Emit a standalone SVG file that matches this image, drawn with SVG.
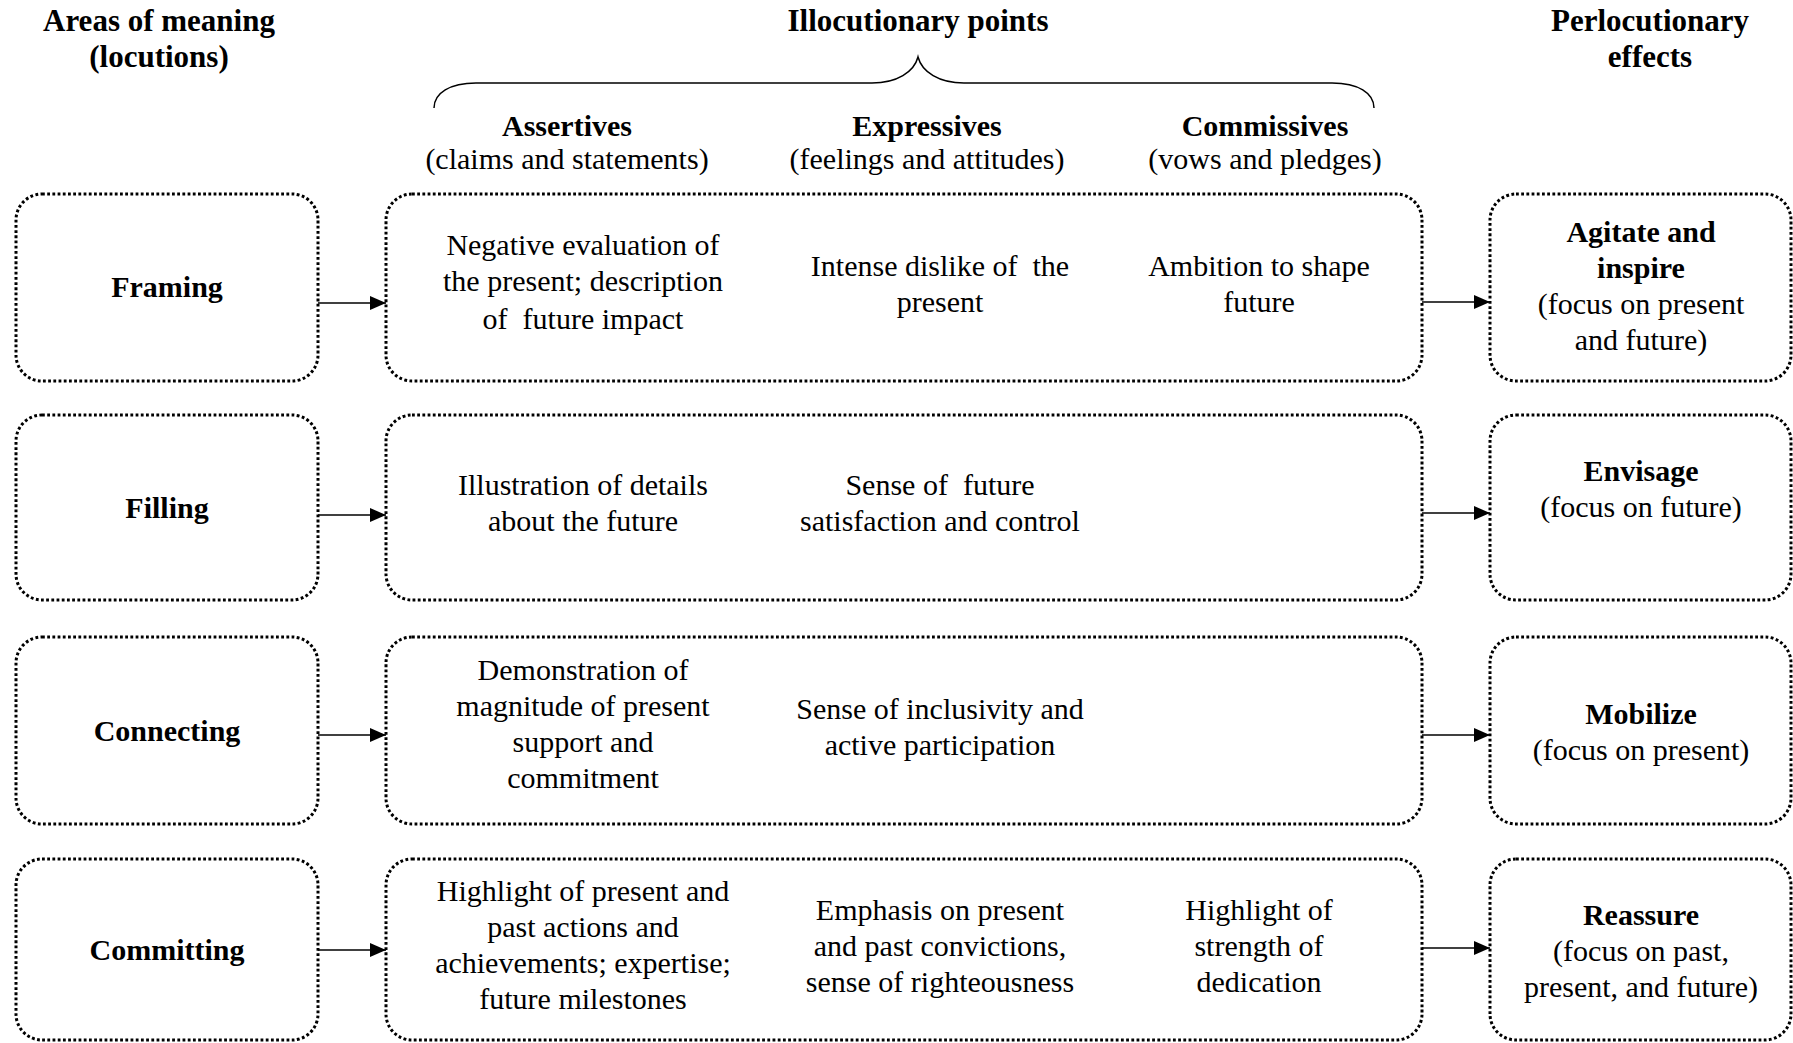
<svg xmlns="http://www.w3.org/2000/svg" width="1793" height="1043" viewBox="0 0 1793 1043">
<defs>
<style>
text{font-family:"Liberation Serif","Times New Roman",serif;font-size:30px;fill:#000;text-anchor:middle;white-space:pre}
.b{font-weight:bold}
.h{font-size:31px}
.box{fill:none;stroke:#000;stroke-width:3;stroke-dasharray:2.8 2.4}
.conn{stroke:#000;stroke-width:1.5;fill:none}
</style>
<marker id="ah" viewBox="0 0 16 14" refX="16" refY="7" markerWidth="16" markerHeight="14" markerUnits="userSpaceOnUse" orient="auto">
<path d="M0,0 L16,7 L0,14 Z" fill="#000"/>
</marker>
</defs>
<rect width="1793" height="1043" fill="#fff"/>

<g id="headers">
<text class="b h" x="159" y="31">Areas of meaning</text>
<text class="b h" x="159" y="67">(locutions)</text>
<text class="b h" x="918" y="31">Illocutionary points</text>
<text class="b h" x="1650" y="31">Perlocutionary</text>
<text class="b h" x="1650" y="67">effects</text>
<path class="conn" d="M434,108 C434,93 450,83 476,83 L872,83 C897,83 914,72 918,57 C922,72 939,83 964,83 L1332,83 C1358,83 1374,93 1374,108"/>
<text class="b" x="567" y="136">Assertives</text>
<text x="567" y="169">(claims and statements)</text>
<text class="b" x="927" y="136">Expressives</text>
<text x="927" y="169">(feelings and attitudes)</text>
<text class="b" x="1265" y="136">Commissives</text>
<text x="1265" y="169">(vows and pledges)</text>
</g>

<g id="framing">
<rect class="box" x="16" y="194" width="302" height="187" rx="26"/>
<text class="b" x="167" y="297">Framing</text>
</g>
<g id="framing-points">
<rect class="box" x="386" y="194" width="1036" height="187" rx="26"/>
<text x="583" y="255">Negative evaluation of</text>
<text x="583" y="291">the present; description</text>
<text x="583" y="329">of  future impact</text>
<text x="940" y="276">Intense dislike of  the</text>
<text x="940" y="312">present</text>
<text x="1259" y="276">Ambition to shape</text>
<text x="1259" y="312">future</text>
</g>
<g id="agitate">
<rect class="box" x="1490" y="194" width="301" height="187" rx="26"/>
<text class="b" x="1641" y="242">Agitate and</text>
<text class="b" x="1641" y="278">inspire</text>
<text x="1641" y="314">(focus on present</text>
<text x="1641" y="350">and future)</text>
</g>

<g id="filling">
<rect class="box" x="16" y="415" width="302" height="185" rx="26"/>
<text class="b" x="167" y="518">Filling</text>
</g>
<g id="filling-points">
<rect class="box" x="386" y="415" width="1036" height="185" rx="26"/>
<text x="583" y="495">Illustration of details</text>
<text x="583" y="531">about the future</text>
<text x="940" y="495">Sense of  future</text>
<text x="940" y="531">satisfaction and control</text>
</g>
<g id="envisage">
<rect class="box" x="1490" y="415" width="301" height="185" rx="26"/>
<text class="b" x="1641" y="481">Envisage</text>
<text x="1641" y="517">(focus on future)</text>
</g>

<g id="connecting">
<rect class="box" x="16" y="637" width="302" height="187" rx="26"/>
<text class="b" x="167" y="741">Connecting</text>
</g>
<g id="connecting-points">
<rect class="box" x="386" y="637" width="1036" height="187" rx="26"/>
<text x="583" y="680">Demonstration of</text>
<text x="583" y="716">magnitude of present</text>
<text x="583" y="752">support and</text>
<text x="583" y="788">commitment</text>
<text x="940" y="719">Sense of inclusivity and</text>
<text x="940" y="755">active participation</text>
</g>
<g id="mobilize">
<rect class="box" x="1490" y="637" width="301" height="187" rx="26"/>
<text class="b" x="1641" y="724">Mobilize</text>
<text x="1641" y="760">(focus on present)</text>
</g>

<g id="committing">
<rect class="box" x="16" y="859" width="302" height="181" rx="26"/>
<text class="b" x="167" y="960">Committing</text>
</g>
<g id="committing-points">
<rect class="box" x="386" y="859" width="1036" height="181" rx="26"/>
<text x="583" y="901">Highlight of present and</text>
<text x="583" y="937">past actions and</text>
<text x="583" y="973">achievements; expertise;</text>
<text x="583" y="1009">future milestones</text>
<text x="940" y="920">Emphasis on present</text>
<text x="940" y="956">and past convictions,</text>
<text x="940" y="992">sense of righteousness</text>
<text x="1259" y="920">Highlight of</text>
<text x="1259" y="956">strength of</text>
<text x="1259" y="992">dedication</text>
</g>
<g id="reassure">
<rect class="box" x="1490" y="859" width="301" height="181" rx="26"/>
<text class="b" x="1641" y="925">Reassure</text>
<text x="1641" y="961">(focus on past,</text>
<text x="1641" y="997">present, and future)</text>
</g>

<g id="connectors">
<line class="conn" x1="318" y1="303" x2="386" y2="303" marker-end="url(#ah)"/>
<line class="conn" x1="1422" y1="302" x2="1490" y2="302" marker-end="url(#ah)"/>
<line class="conn" x1="318" y1="515" x2="386" y2="515" marker-end="url(#ah)"/>
<line class="conn" x1="1422" y1="513" x2="1490" y2="513" marker-end="url(#ah)"/>
<line class="conn" x1="318" y1="735" x2="386" y2="735" marker-end="url(#ah)"/>
<line class="conn" x1="1422" y1="735" x2="1490" y2="735" marker-end="url(#ah)"/>
<line class="conn" x1="318" y1="950" x2="386" y2="950" marker-end="url(#ah)"/>
<line class="conn" x1="1422" y1="948" x2="1490" y2="948" marker-end="url(#ah)"/>
</g>
</svg>
